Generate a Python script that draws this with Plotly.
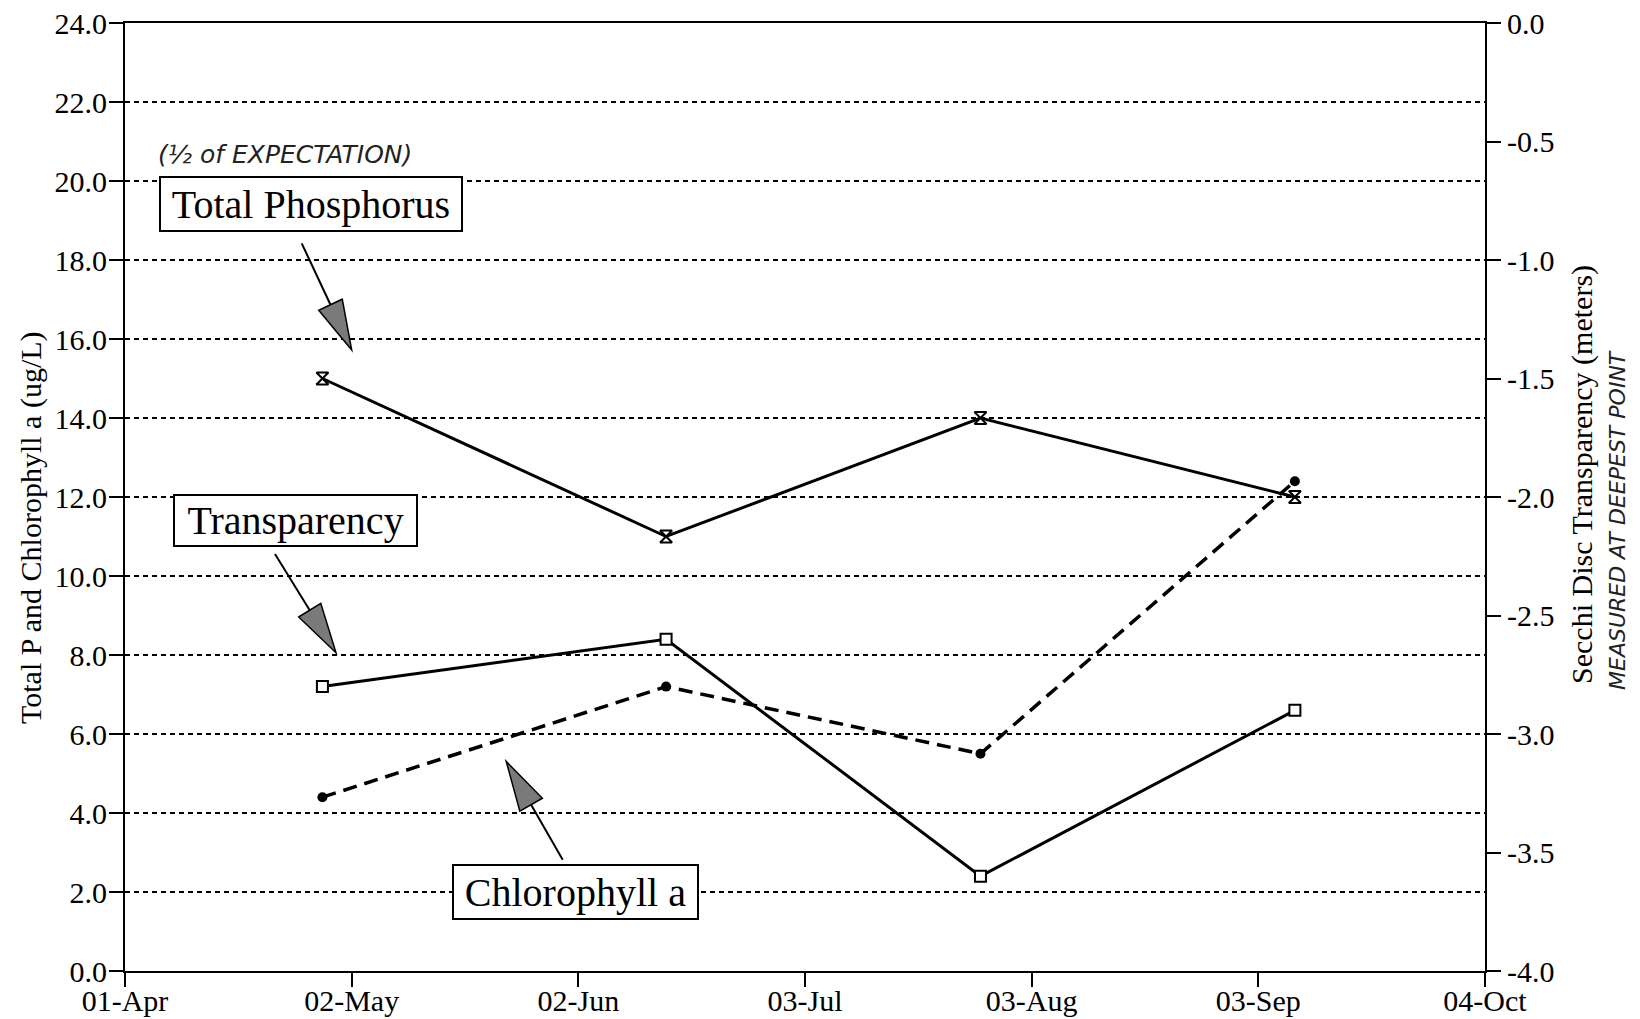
import math
import plotly.graph_objects as go

# ---------------- data ----------------
sample_dates = ["1995-04-28", "1995-06-14", "1995-07-27", "1995-09-08"]
total_phosphorus = [15.0, 11.0, 14.0, 12.0]      # ug/L (left axis)
chlorophyll_a = [4.4, 7.2, 5.5, 12.4]            # ug/L (left axis)
secchi_depth = [-2.8, -2.6, -3.6, -2.9]          # meters (right axis)

x_tick_vals = ["1995-04-01", "1995-05-02", "1995-06-02", "1995-07-03",
               "1995-08-03", "1995-09-03", "1995-10-04"]
x_tick_text = ["01-Apr", "02-May", "02-Jun", "03-Jul", "03-Aug", "03-Sep", "04-Oct"]
y_left_vals = [0, 2, 4, 6, 8, 10, 12, 14, 16, 18, 20, 22, 24]
y_left_text = ["0.0", "2.0", "4.0", "6.0", "8.0", "10.0", "12.0", "14.0",
               "16.0", "18.0", "20.0", "22.0", "24.0"]
y_right_vals = [-4.0, -3.5, -3.0, -2.5, -2.0, -1.5, -1.0, -0.5, 0.0]
y_right_text = ["-4.0", "-3.5", "-3.0", "-2.5", "-2.0", "-1.5", "-1.0", "-0.5", "0.0"]

# ---------------- layout geometry (pixels) ----------------
W, H = 1640, 1019
L, R, T, B = 125, 1485, 23, 971
FONT = "Liberation Serif, Times New Roman, serif"


def px(x):
    return (x - L) / (R - L)


def py(y):
    return (B - y) / (B - T)


fig = go.Figure()

fig.add_trace(go.Scatter(
    x=sample_dates, y=total_phosphorus, mode="lines+markers", name="Total Phosphorus",
    line=dict(color="black", width=3),
    marker=dict(symbol="hourglass", size=12, color="white",
                line=dict(color="black", width=2)),
))
fig.add_trace(go.Scatter(
    x=sample_dates, y=chlorophyll_a, mode="lines+markers", name="Chlorophyll a",
    line=dict(color="black", width=3.5, dash="14px,8px"),
    marker=dict(symbol="circle", size=10, color="black"),
))
fig.add_trace(go.Scatter(
    x=sample_dates, y=secchi_depth, mode="lines+markers", name="Transparency",
    yaxis="y2",
    line=dict(color="black", width=3),
    marker=dict(symbol="square", size=11, color="white",
                line=dict(color="black", width=2)),
))

shapes = []
annotations = []


def arrow(start, tip, length=50, half=13):
    sx, sy = start
    tx, ty = tip
    dx, dy = tx - sx, ty - sy
    n = math.hypot(dx, dy)
    ux, uy = dx / n, dy / n
    bx, by = tx - length * ux, ty - length * uy
    pxv, pyv = -uy, ux
    p1 = (bx + half * pxv, by + half * pyv)
    p2 = (bx - half * pxv, by - half * pyv)
    shapes.append(dict(type="line", xref="paper", yref="paper",
                       x0=px(sx), y0=py(sy), x1=px(bx), y1=py(by),
                       line=dict(color="black", width=2)))
    path = "M {} {} L {} {} L {} {} Z".format(px(tx), py(ty), px(p1[0]), py(p1[1]),
                                              px(p2[0]), py(p2[1]))
    shapes.append(dict(type="path", xref="paper", yref="paper", path=path,
                       fillcolor="#7a7a7a", line=dict(color="black", width=1.5)))


def box(text, cx, cy, w, h):
    annotations.append(dict(
        text=text, xref="paper", yref="paper", x=px(cx), y=py(cy),
        xanchor="center", yanchor="middle", showarrow=False,
        font=dict(family=FONT, size=40, color="black"),
        bgcolor="white", bordercolor="black", borderwidth=2, borderpad=0,
        width=w, height=h,
    ))


arrow((301.7, 243.3), (351.7, 350))
arrow((275, 554), (336, 652.7))
arrow((562.7, 859.7), (506.2, 761.4))

box("Total Phosphorus", 311, 204, 300, 52)
box("Transparency", 295, 520, 241, 49)
box("Chlorophyll a", 575, 892, 243, 52)

# axis titles
annotations.append(dict(
    text="Total P and Chlorophyll a (ug/L)", xref="paper", yref="paper",
    x=px(31), y=py(528), textangle=-90, showarrow=False,
    xanchor="center", yanchor="middle",
    font=dict(family=FONT, size=30, color="black")))
annotations.append(dict(
    text="Secchi Disc Transparency (meters)", xref="paper", yref="paper",
    x=px(1582), y=py(475), textangle=-90, showarrow=False,
    xanchor="center", yanchor="middle",
    font=dict(family=FONT, size=30, color="black")))

# handwritten notes
annotations.append(dict(
    text="(½ of EXPECTATION)", xref="paper", yref="paper",
    x=px(285), y=py(155), showarrow=False, xanchor="center", yanchor="middle",
    font=dict(family="DejaVu Sans", size=25, color="#222", style="italic")))
annotations.append(dict(
    text="MEASURED AT DEEPEST POINT", xref="paper", yref="paper",
    x=px(1617), y=py(520), textangle=-90, showarrow=False,
    xanchor="center", yanchor="middle",
    font=dict(family="DejaVu Sans", size=22, color="#222", style="italic")))

tickfont = dict(family=FONT, size=30, color="black")

fig.update_layout(
    width=W, height=H,
    margin=dict(l=L, r=W - R, t=T, b=H - B, autoexpand=False),
    paper_bgcolor="white", plot_bgcolor="white",
    showlegend=False,
    shapes=shapes, annotations=annotations,
    xaxis=dict(
        type="date", range=[x_tick_vals[0], x_tick_vals[-1]],
        tickmode="array", tickvals=x_tick_vals, ticktext=x_tick_text,
        showgrid=False, zeroline=False,
        showline=True, mirror=True, linecolor="black", linewidth=2,
        ticks="outside", ticklen=14, tickwidth=2, tickcolor="black",
        ticklabelstandoff=-12,
        tickfont=tickfont,
    ),
    yaxis=dict(
        range=[0, 24], tickmode="array", tickvals=y_left_vals, ticktext=y_left_text,
        showgrid=True, gridcolor="black", gridwidth=2, griddash="5px,4px",
        zeroline=False, showline=True, linecolor="black", linewidth=2,
        ticks="outside", ticklen=14, tickwidth=2, tickcolor="black",
        ticklabelstandoff=-4,
        tickfont=tickfont,
    ),
    yaxis2=dict(
        range=[-4, 0], overlaying="y", side="right",
        tickmode="array", tickvals=y_right_vals, ticktext=y_right_text,
        showgrid=False, zeroline=False,
        showline=True, linecolor="black", linewidth=2,
        ticks="outside", ticklen=14, tickwidth=2, tickcolor="black",
        ticklabelstandoff=0,
        tickfont=tickfont,
    ),
)

fig.write_html(
    "out.html",
    config={"displayModeBar": False},
    post_script="document.body.style.margin='0';document.body.style.overflow='hidden';",
)
